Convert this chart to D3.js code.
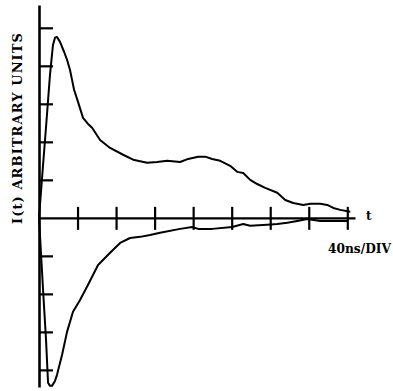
<!DOCTYPE html>
<html>
<head>
<meta charset="utf-8">
<script src="https://cdn.jsdelivr.net/npm/d3@7"></script>
<style>
  html, body { margin: 0; padding: 0; background: #fff; }
  svg { display: block; }
  text { font-family: "DejaVu Serif", "Liberation Serif", serif; font-weight: bold; fill: #000; }
</style>
</head>
<body>
<svg id="chart" width="393" height="391"></svg>
<script>
// Time axis in ns (40 ns per division), intensity in arbitrary units (1 per division)
const xTicks = [40, 80, 120, 160, 200, 240, 280, 320];
const yTicks = [-4, -3, -2, -1, 1, 2, 3, 4, 5];

// Positive pulse: time (ns) and intensity
const upperT = [0, 3.8, 7.3, 11.4, 14.5, 16.6, 18.7, 21.8, 26.0, 29.1, 32.2, 34.3, 36.4, 40.5, 45.7, 50.9, 55.1, 63.4, 73.8, 87.3, 97.7, 112.2, 122.6, 133.0, 146.5, 154.8, 165.2, 172.5, 179.7, 188.1, 198.4, 205.7, 212.0, 219.2, 226.5, 234.8, 247.3, 255.6, 263.9, 274.3, 281.6, 291.9, 299.2, 305.5, 312.7, 323.1];
const upperI = [0, 1.26, 2.39, 3.76, 4.55, 4.74, 4.76, 4.63, 4.37, 4.16, 3.89, 3.63, 3.37, 3.05, 2.63, 2.47, 2.37, 2.05, 1.84, 1.66, 1.53, 1.45, 1.47, 1.50, 1.47, 1.55, 1.61, 1.61, 1.55, 1.50, 1.37, 1.21, 1.18, 1.00, 0.89, 0.79, 0.66, 0.47, 0.39, 0.34, 0.37, 0.37, 0.34, 0.26, 0.21, 0.16];

// Negative pulse: time (ns) and intensity
const lowerT = [0, 4.2, 7.3, 9.4, 11.4, 13.5, 16.6, 18.7, 23.9, 29.1, 35.3, 42.6, 50.9, 61.3, 73.8, 84.2, 94.5, 104.9, 115.3, 125.7, 146.5, 159.0, 165.2, 179.7, 200.5, 212.0, 219.2, 236.9, 247.3, 257.7, 268.1, 278.4, 291.9, 320.0];
const lowerI = [0, -1.89, -3.21, -4.34, -4.42, -4.42, -4.29, -4.13, -3.61, -3.00, -2.47, -2.16, -1.76, -1.24, -0.92, -0.66, -0.53, -0.50, -0.45, -0.39, -0.29, -0.24, -0.29, -0.29, -0.24, -0.16, -0.21, -0.18, -0.16, -0.13, -0.08, -0.03, -0.08, -0.08];

const svg = d3.select("#chart");

const x = d3.scaleLinear().domain([0, 328]).range([39, 355]);
const y = d3.scaleLinear().domain([-4.45, 5.6]).range([387, 5]);

// Vertical axis with ticks to the right
const yAxis = svg.append("g")
  .attr("transform", `translate(${x(0)},0)`)
  .call(d3.axisRight(y).tickValues(yTicks).tickSizeInner(14).tickSizeOuter(0).tickFormat(""));
yAxis.select(".domain").attr("stroke", "#000").attr("stroke-width", 2.6);
yAxis.selectAll(".tick line").attr("stroke", "#000").attr("stroke-width", 2.2);

// Horizontal time axis with ticks crossing it
const xAxis = svg.append("g")
  .attr("transform", `translate(0,${y(0)})`)
  .call(d3.axisBottom(x).tickValues(xTicks).tickSizeInner(12).tickSizeOuter(0).tickFormat(""));
xAxis.select(".domain").attr("stroke", "#000").attr("stroke-width", 2.4);
xAxis.selectAll(".tick line")
  .attr("y1", -11).attr("y2", 12)
  .attr("stroke", "#000").attr("stroke-width", 2.2);

const line = d3.line().x(d => x(d[0])).y(d => y(d[1]));

svg.append("path")
  .datum(d3.zip(upperT, upperI))
  .attr("d", line)
  .attr("fill", "none").attr("stroke", "#000").attr("stroke-width", 2)
  .attr("stroke-linejoin", "round");

svg.append("path")
  .datum(d3.zip(lowerT, lowerI))
  .attr("d", line)
  .attr("fill", "none").attr("stroke", "#000").attr("stroke-width", 2)
  .attr("stroke-linejoin", "round");

// Labels
svg.append("text")
  .attr("transform", "translate(22,128.5) rotate(-90)")
  .attr("text-anchor", "middle")
  .attr("font-size", 13)
  .attr("textLength", 191)
  .attr("lengthAdjust", "spacing")
  .text("I(t) ARBITRARY UNITS");

svg.append("text")
  .attr("x", 366).attr("y", 220)
  .attr("font-size", 12)
  .text("t");

svg.append("text")
  .attr("x", 328).attr("y", 253)
  .attr("font-size", 12)
  .attr("textLength", 63)
  .attr("lengthAdjust", "spacingAndGlyphs")
  .text("40ns/DIV");
</script>
</body>
</html>
